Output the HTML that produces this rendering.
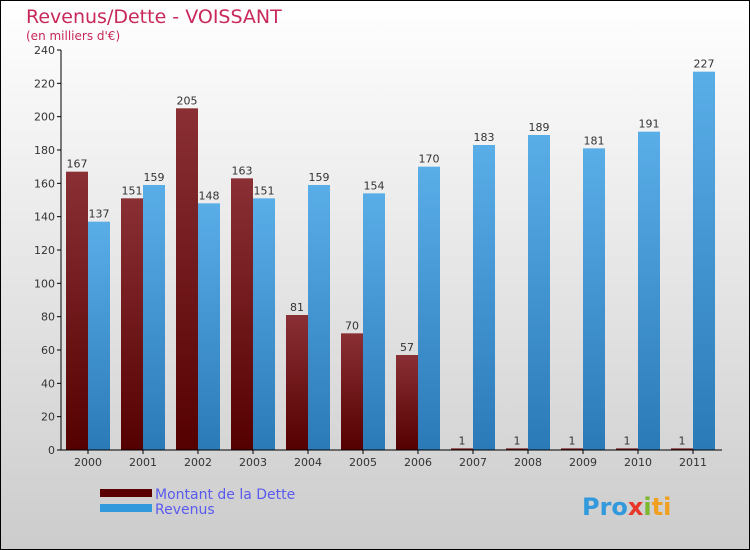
<!DOCTYPE html>
<html><head><meta charset="utf-8"><style>
body{margin:0}
#c{width:750px;height:550px;position:relative;box-sizing:border-box;border:1px solid #000;background:linear-gradient(#fff,#ccc);font-family:"DejaVu Sans","Liberation Sans",sans-serif;overflow:hidden}
</style></head><body>
<div id="c">
<svg id="s" width="750" height="550" style="position:absolute;left:-1px;top:-1px">
<defs>
<linearGradient id="gd" x1="0" x2="0" y1="0" y2="1"><stop offset="0" stop-color="#8a3035"/><stop offset="1" stop-color="#550000"/></linearGradient>
<linearGradient id="gr" x1="0" x2="0" y1="0" y2="1"><stop offset="0" stop-color="#5aaee8"/><stop offset="1" stop-color="#2a7ab8"/></linearGradient>
</defs>
<text x="26" y="23" font-size="19" fill="#c8285a">Revenus/Dette - VOISSANT</text>
<text x="26" y="40" font-size="12" fill="#c8285a">(en milliers d'€)</text>
<g id="plot"></g>
<rect x="100" y="489" width="52" height="8" fill="#5a0000"/>
<text x="155" y="499" font-size="14" fill="#5a5aee">Montant de la Dette</text>
<rect x="100" y="504" width="52" height="8" fill="#3399dd"/>
<text x="155" y="514" font-size="14" fill="#5a5aee">Revenus</text>
<text x="582" y="515" font-size="24" font-weight="bold" fill="#3399dd">Pro<tspan fill="#e8372a">x</tspan><tspan fill="#7cb82f">i</tspan><tspan fill="#f0a020">ti</tspan></text>
</svg>
</div>
<script>
const years=["2000","2001","2002","2003","2004","2005","2006","2007","2008","2009","2010","2011"];
const dette=[167,151,205,163,81,70,57,1,1,1,1,1];
const revenus=[137,159,148,151,159,154,170,183,189,181,191,227];
const ticks=[0,20,40,60,80,100,120,140,160,180,200,220,240];
const NS="http://www.w3.org/2000/svg";
const g=document.getElementById('plot');
const x0=61,y0=450,yMax=240,yTop=50,gw=55,bw=22,xEnd=722;
const y=v=>y0-(v/yMax)*(y0-yTop);
function mk(t,a){const e=document.createElementNS(NS,t);for(const k in a)e.setAttribute(k,a[k]);g.appendChild(e);return e;}
ticks.forEach(t=>{
 const l=mk('line',{x1:x0-4,x2:x0,y1:y(t),y2:y(t),stroke:'#000'});
 
 
 const tx=mk('text',{x:x0-6,y:y(t)+4,'font-size':11,'text-anchor':'end',fill:'#333'});tx.textContent=t;
 
 
});
years.forEach((yr,i)=>{
 const gx=x0+5+i*gw;
 const r1=mk('rect',{x:gx,y:y(dette[i]),width:bw,height:y0-y(dette[i]),fill:'url(#gd)'});
 
 
 const r2=mk('rect',{x:gx+bw,y:y(revenus[i]),width:bw,height:y0-y(revenus[i]),fill:'url(#gr)'});
 
 
 const t1=mk('text',{x:gx+bw/2,y:y(dette[i])-4,'font-size':11,'text-anchor':'middle',fill:'#333'});t1.textContent=dette[i];
 
 
 const t2=mk('text',{x:gx+bw*1.5,y:y(revenus[i])-4,'font-size':11,'text-anchor':'middle',fill:'#333'});t2.textContent=revenus[i];
 
 
 const tk=mk('line',{x1:gx+bw,x2:gx+bw,y1:y0,y2:y0+4,stroke:'#000'});
 
 
 const xl=mk('text',{x:gx+bw,y:y0+16,'font-size':11,'text-anchor':'middle',fill:'#333'});xl.textContent=yr;
 
 
});
const ya=mk('line',{x1:x0,x2:x0,y1:yTop,y2:y0,stroke:'#000'});


const xa=mk('line',{x1:x0,x2:xEnd,y1:y0,y2:y0,stroke:'#000'});


</script>
</body></html>
